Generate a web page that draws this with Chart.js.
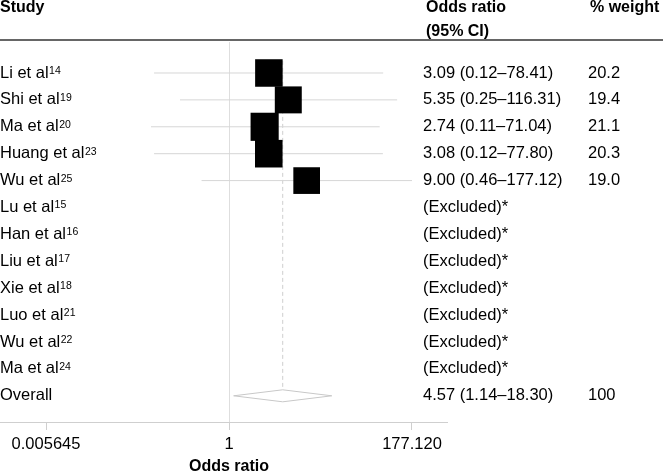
<!DOCTYPE html>
<html>
<head>
<meta charset="utf-8">
<script src="https://cdn.jsdelivr.net/npm/chart.js@4.4.0/dist/chart.umd.min.js"></script>
<style>
html,body{margin:0;padding:0;background:#fff;}
#wrap{width:663px;height:473px;position:relative;}
</style>
</head>
<body>
<div id="wrap"><canvas id="c" width="663" height="473"></canvas></div>
<script>
// ---------- data ----------
const studyNames = ["Li et al","Shi et al","Ma et al","Huang et al","Wu et al","Lu et al","Han et al","Liu et al","Xie et al","Luo et al","Wu et al","Ma et al"];
const studyRefs  = ["14","19","20","23","25","15","16","17","18","21","22","24"];
const oddsRatios = [3.09, 5.35, 2.74, 3.08, 9.00, null, null, null, null, null, null, null];
const ciLower    = [0.12, 0.25, 0.11, 0.12, 0.46, null, null, null, null, null, null, null];
const ciUpper    = [78.41, 116.31, 71.04, 77.80, 177.12, null, null, null, null, null, null, null];
const weights    = ["20.2","19.4","21.1","20.3","19.0", null, null, null, null, null, null, null];
const excludedText = "(Excluded)*";
const overallLabel = "Overall";
const overallOR = 4.57;
const overallLower = 1.14;
const overallUpper = 18.30;
const overallWeight = "100";
const xTickValues = [0.005645, 1, 177.12];
const xTickLabels = ["0.005645", "1", "177.120"];
const xAxisTitle = "Odds ratio";
const headerStudy = "Study";
const headerOR = ["Odds ratio", "(95% CI)"];
const headerWeight = "% weight";

// ---------- styling ----------
const FONT = '"Liberation Sans", Arial, Helvetica, sans-serif';
const AXIS_MIN = 0.001536, AXIS_MAX = 476.8;
const ROW_MIN = -1.152, ROW_MAX = 12.974;
const SQUARE_K = 4.33;
const DIAMOND_HALF = 0.223;
const overallRow = studyNames.length;

const fmt = v => v.toFixed(2);

const datasets = [];
// squares (drawn on top)
datasets.push({
  type: 'scatter',
  data: oddsRatios.map((v, i) => v == null ? null : {x: v, y: i, w: parseFloat(weights[i])}).filter(d => d),
  pointStyle: 'rect',
  backgroundColor: '#000',
  borderColor: '#000',
  borderWidth: 0,
  pointRadius: ctx => SQUARE_K * Math.sqrt(ctx.raw ? ctx.raw.w : 20),
  order: 0
});
// CI lines
oddsRatios.forEach((v, i) => {
  if (v == null) return;
  datasets.push({
    type: 'line',
    data: [{x: ciLower[i], y: i}, {x: ciUpper[i], y: i}],
    borderColor: '#d6d6d6',
    borderWidth: 1,
    pointRadius: 0,
    fill: false,
    order: 2
  });
});
// overall diamond
datasets.push({
  type: 'line',
  data: [
    {x: overallLower, y: overallRow},
    {x: overallOR, y: overallRow - DIAMOND_HALF},
    {x: overallUpper, y: overallRow},
    {x: overallOR, y: overallRow + DIAMOND_HALF},
    {x: overallLower, y: overallRow}
  ],
  borderColor: '#c8c8c8',
  borderWidth: 1,
  pointRadius: 0,
  fill: false,
  tension: 0,
  order: 3
});
// dashed overall line
datasets.push({
  type: 'line',
  data: [{x: overallOR, y: -0.45}, {x: overallOR, y: overallRow - DIAMOND_HALF}],
  borderColor: '#cfcfcf',
  borderWidth: 1,
  borderDash: [4, 3],
  pointRadius: 0,
  fill: false,
  order: 4
});

const textPlugin = {
  id: 'forestText',
  afterDraw(chart) {
    const ctx = chart.ctx;
    const ys = chart.scales.y, xs = chart.scales.x;
    ctx.save();
    ctx.fillStyle = '#000';
    ctx.textBaseline = 'middle';
    ctx.textAlign = 'left';
    // headers
    ctx.font = 'bold 16px ' + FONT;
    ctx.fillText(headerStudy, 0, 7.5);
    ctx.fillText(headerOR[0], 426, 7.5);
    ctx.fillText(headerOR[1], 426, 32);
    ctx.fillText(headerWeight, 590, 7.5);
    // header rule
    ctx.strokeStyle = '#666';
    ctx.lineWidth = 2;
    ctx.beginPath();
    ctx.moveTo(0, 40);
    ctx.lineTo(663, 40);
    ctx.stroke();
    // rows
    studyNames.forEach((name, i) => {
      const y = ys.getPixelForValue(i);
      ctx.font = '16.5px ' + FONT;
      ctx.textBaseline = 'middle';
      ctx.fillText(name, 0, y);
      const w = ctx.measureText(name).width;
      ctx.font = '10.5px ' + FONT;
      ctx.textBaseline = 'alphabetic';
      ctx.fillText(studyRefs[i], w + 0.5, y + 1);
      ctx.font = '16.5px ' + FONT;
      ctx.textBaseline = 'middle';
      const ciTxt = oddsRatios[i] == null ? excludedText
        : fmt(oddsRatios[i]) + ' (' + fmt(ciLower[i]) + '\u2013' + fmt(ciUpper[i]) + ')';
      ctx.fillText(ciTxt, 423, y);
      if (weights[i] != null) ctx.fillText(weights[i], 588, y);
    });
    const yo = ys.getPixelForValue(overallRow);
    ctx.fillText(overallLabel, 0, yo);
    ctx.fillText(fmt(overallOR) + ' (' + fmt(overallLower) + '\u2013' + fmt(overallUpper) + ')', 423, yo);
    ctx.fillText(overallWeight, 588, yo);
    // x-axis title
    ctx.font = 'bold 16px ' + FONT;
    ctx.textAlign = 'center';
    ctx.fillText(xAxisTitle, xs.getPixelForValue(1), 467);
    ctx.restore();
  }
};

new Chart(document.getElementById('c'), {
  type: 'scatter',
  data: { datasets },
  options: {
    responsive: false,
    devicePixelRatio: 1,
    animation: false,
    events: [],
    layout: { autoPadding: false, padding: { top: 42, left: 0, right: 216, bottom: 0 } },
    plugins: { legend: { display: false }, tooltip: { enabled: false } },
    scales: {
      x: {
        type: 'logarithmic',
        position: 'bottom',
        min: AXIS_MIN,
        max: AXIS_MAX,
        bounds: 'data',
        afterBuildTicks: s => { s.ticks = xTickValues.map(v => ({ value: v })); },
        afterFit: s => { s.height = 51; s.paddingLeft = 0; s.paddingRight = 0; },
        ticks: {
          autoSkip: false,
          maxRotation: 0,
          padding: 5,
          color: '#000',
          font: { family: FONT, size: 16.5 },
          callback: (v, i) => xTickLabels[i]
        },
        grid: {
          drawOnChartArea: true,
          drawTicks: true,
          tickLength: 8,
          color: c => (c.tick && c.tick.value === 1) ? '#dedede' : 'rgba(0,0,0,0)',
          tickColor: '#cfcfcf'
        },
        border: { display: true, color: '#cfcfcf', width: 1 }
      },
      y: {
        type: 'linear',
        position: 'left',
        reverse: true,
        min: ROW_MIN,
        max: ROW_MAX,
        display: false,
        ticks: { display: false },
        grid: { display: false, drawTicks: false },
        border: { display: false },
        afterFit: s => { s.width = 0; s.paddingTop = 0; s.paddingBottom = 0; }
      }
    }
  },
  plugins: [textPlugin]
});
</script>
</body>
</html>
